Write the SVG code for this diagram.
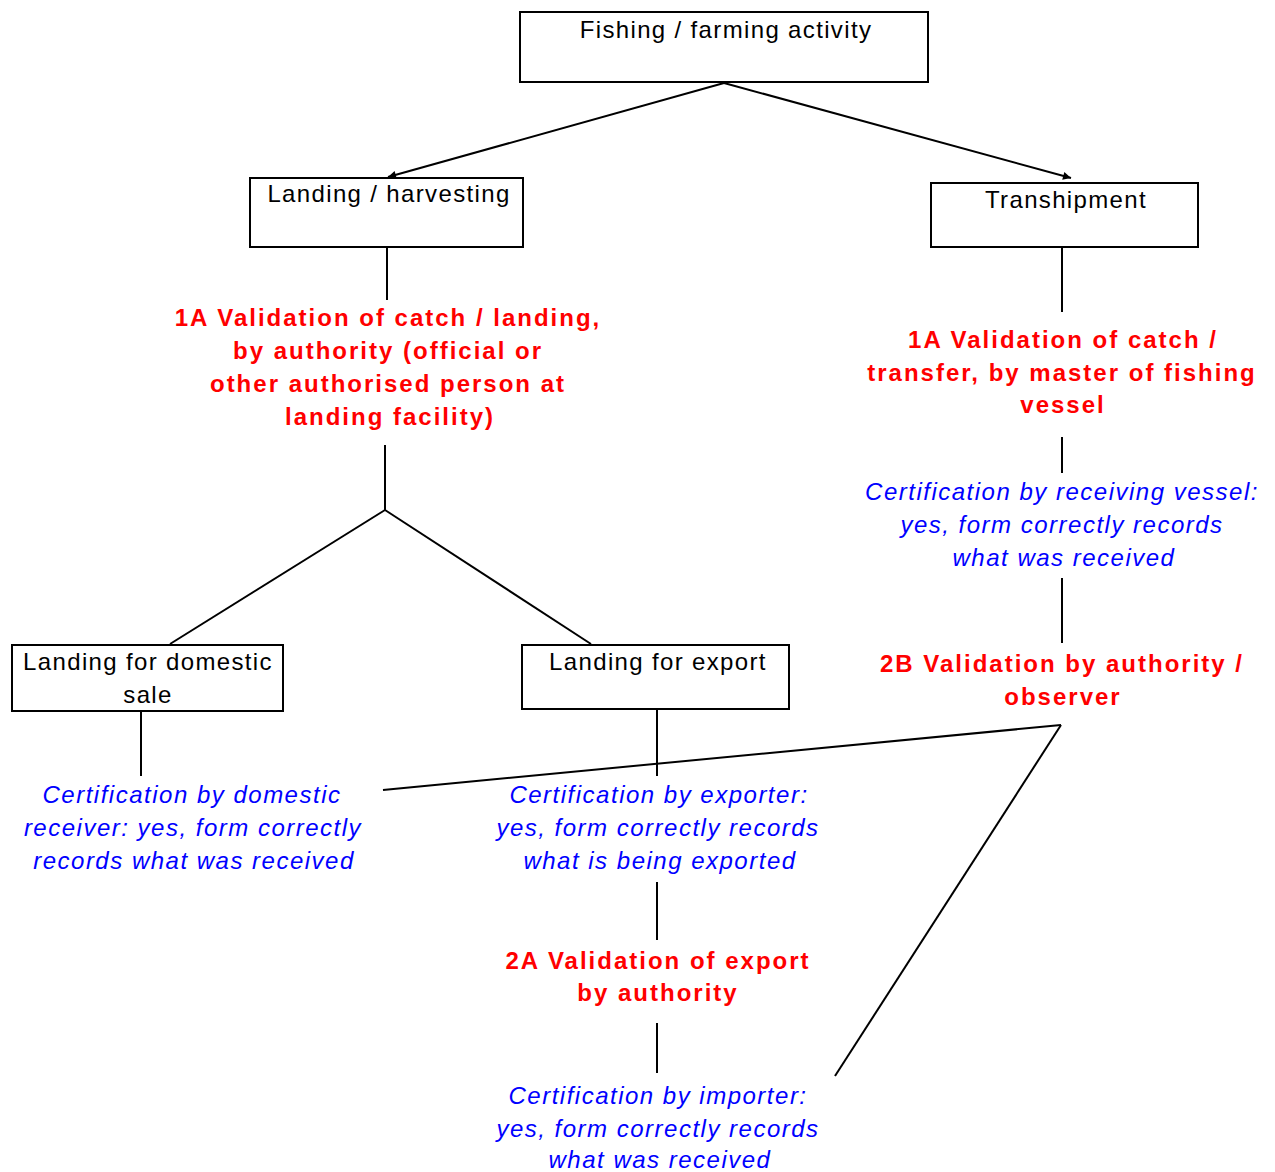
<svg xmlns="http://www.w3.org/2000/svg" width="1275" height="1172" viewBox="0 0 1275 1172">
<defs>
<marker id="ah" viewBox="0 0 10 10" refX="10" refY="5" markerWidth="10" markerHeight="8" markerUnits="userSpaceOnUse" orient="auto">
<path d="M0,0 L10,5 L0,10 z" fill="#000"/>
</marker>
<style>
.box{fill:#fff;stroke:#000;stroke-width:2}
.lbl{font-family:"Liberation Sans",Arial,sans-serif;font-size:24px;fill:#000;text-anchor:middle;letter-spacing:1.35px}
.red{font-family:"Liberation Sans",Arial,sans-serif;font-size:24px;font-weight:bold;fill:#ff0000;text-anchor:middle;letter-spacing:2px}
.blue{font-family:"Liberation Sans",Arial,sans-serif;font-size:24px;font-style:italic;fill:#0000ff;text-anchor:middle;letter-spacing:1.5px}
.ln{stroke:#000;stroke-width:2;fill:none}
</style>
</defs>
<rect width="1275" height="1172" fill="#fff"/>
<g id="connectors">
<line class="ln" x1="724" y1="83" x2="388" y2="177" marker-end="url(#ah)"/>
<line class="ln" x1="724" y1="83" x2="1071" y2="178" marker-end="url(#ah)"/>
<line class="ln" x1="387" y1="247" x2="387" y2="300"/>
<line class="ln" x1="385" y1="445" x2="385" y2="510"/>
<line class="ln" x1="385" y1="510" x2="170" y2="644"/>
<line class="ln" x1="385" y1="510" x2="591" y2="644"/>
<line class="ln" x1="141" y1="711" x2="141" y2="776"/>
<line class="ln" x1="657" y1="709" x2="657" y2="776"/>
<line class="ln" x1="657" y1="882" x2="657" y2="940"/>
<line class="ln" x1="657" y1="1023" x2="657" y2="1073"/>
<line class="ln" x1="1062" y1="247" x2="1062" y2="312"/>
<line class="ln" x1="1062" y1="437" x2="1062" y2="473"/>
<line class="ln" x1="1062" y1="578" x2="1062" y2="643"/>
<line class="ln" x1="1061" y1="725" x2="383" y2="790"/>
<line class="ln" x1="1061" y1="725" x2="835" y2="1076"/>
</g>
<g id="n-fishing">
<rect class="box" x="520" y="12" width="408" height="70"/>
<text class="lbl" x="726" y="38">Fishing / farming activity</text>
</g>
<g id="n-landing">
<rect class="box" x="250" y="178" width="273" height="69"/>
<text class="lbl" x="389" y="202">Landing / harvesting</text>
</g>
<g id="n-tranship">
<rect class="box" x="931" y="183" width="267" height="64"/>
<text class="lbl" x="1066" y="208">Transhipment</text>
</g>
<g id="n-domestic">
<rect class="box" x="12" y="645" width="271" height="66"/>
<text class="lbl" x="148" y="670">Landing for domestic</text>
<text class="lbl" x="148" y="703">sale</text>
</g>
<g id="n-export">
<rect class="box" x="522" y="645" width="267" height="64"/>
<text class="lbl" x="658" y="670">Landing for export</text>
</g>
<g id="t-1a-left">
<text class="red" x="388" y="326">1A Validation of catch / landing,</text>
<text class="red" x="388" y="359">by authority (official or</text>
<text class="red" x="388" y="392">other authorised person at</text>
<text class="red" x="390" y="425">landing facility)</text>
</g>
<g id="t-1a-right">
<text class="red" x="1063" y="348">1A Validation of catch /</text>
<text class="red" x="1062" y="381">transfer, by master of fishing</text>
<text class="red" x="1063" y="413">vessel</text>
</g>
<g id="t-cert-vessel">
<text class="blue" x="1062" y="500">Certification by receiving vessel:</text>
<text class="blue" x="1062" y="533">yes, form correctly records</text>
<text class="blue" x="1064" y="566">what was received</text>
</g>
<g id="t-2b">
<text class="red" x="1062" y="672">2B Validation by authority /</text>
<text class="red" x="1063" y="705">observer</text>
</g>
<g id="t-cert-domestic">
<text class="blue" x="192" y="803">Certification by domestic</text>
<text class="blue" x="193" y="836">receiver: yes, form correctly</text>
<text class="blue" x="194" y="869">records what was received</text>
</g>
<g id="t-cert-exporter">
<text class="blue" x="659" y="803">Certification by exporter:</text>
<text class="blue" x="658" y="836">yes, form correctly records</text>
<text class="blue" x="660" y="869">what is being exported</text>
</g>
<g id="t-2a">
<text class="red" x="658" y="969">2A Validation of export</text>
<text class="red" x="658" y="1001">by authority</text>
</g>
<g id="t-cert-importer">
<text class="blue" x="658" y="1104">Certification by importer:</text>
<text class="blue" x="658" y="1137">yes, form correctly records</text>
<text class="blue" x="660" y="1168">what was received</text>
</g>
</svg>
